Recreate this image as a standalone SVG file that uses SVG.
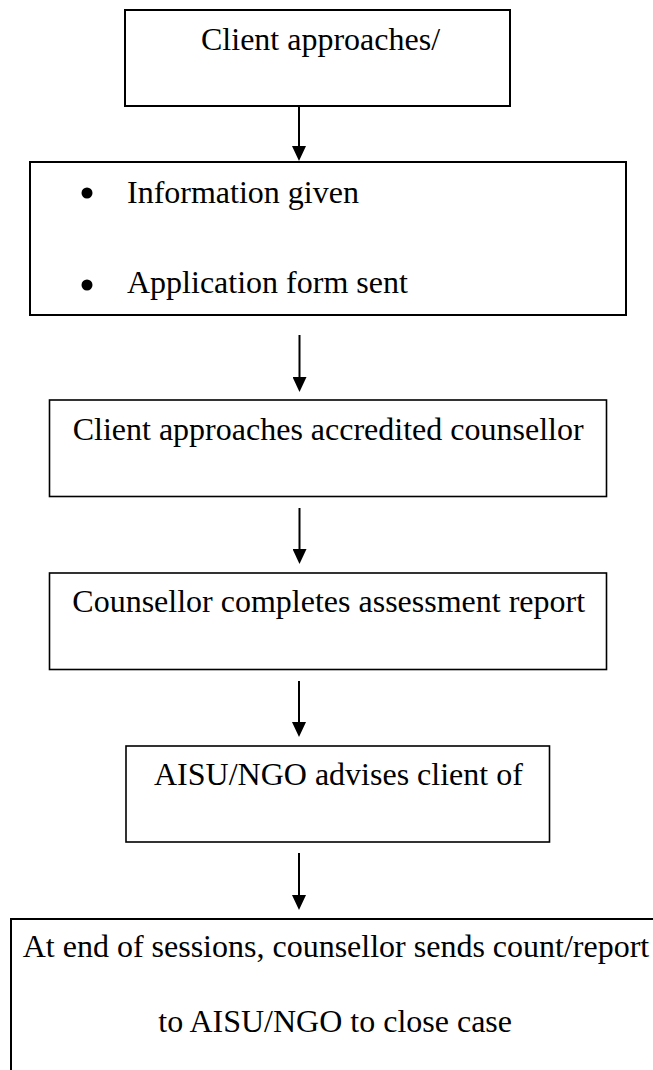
<svg xmlns="http://www.w3.org/2000/svg" width="653" height="1070" viewBox="0 0 653 1070">
  <style>
    .box { fill: #ffffff; stroke: #000000; stroke-width: 2; }
    .thin { stroke-width: 1.6; }
    .t { font-family: "Liberation Serif", "Times New Roman", serif; font-size: 32px; fill: #000000; }
    .conn { stroke: #000000; stroke-width: 2; fill: none; marker-end: url(#arrow); }
  </style>
  <defs>
    <marker id="arrow" markerUnits="userSpaceOnUse" markerWidth="15" markerHeight="14" viewBox="0 0 15 14" refX="0" refY="7" orient="auto">
      <path d="M0,0 L15,7 L0,14 Z" fill="#000000"/>
    </marker>
  </defs>
  <rect width="653" height="1070" fill="#ffffff"/>

  <g id="connectors">
    <line class="conn" x1="299" y1="106" x2="299" y2="146"/>
    <line class="conn" x1="299.5" y1="335" x2="299.5" y2="377"/>
    <line class="conn" x1="299.5" y1="508" x2="299.5" y2="549"/>
    <line class="conn" x1="299" y1="681" x2="299" y2="722"/>
    <line class="conn" x1="299" y1="853" x2="299" y2="895"/>
  </g>

  <g id="node-client-approaches">
    <rect class="box" x="125" y="10" width="385" height="96"/>
    <text class="t" x="201" y="50">Client approaches/</text>
  </g>

  <g id="node-information">
    <rect class="box" x="30" y="162" width="596" height="153"/>
    <circle cx="87" cy="193" r="5.5" fill="#000000"/>
    <text class="t" x="127" y="203">Information given</text>
    <circle cx="87" cy="285" r="5.5" fill="#000000"/>
    <text class="t" x="127" y="293">Application form sent</text>
  </g>

  <g id="node-accredited-counsellor">
    <rect class="box thin" x="49.5" y="400" width="557" height="96.5"/>
    <text class="t" x="72.7" y="440">Client approaches accredited counsellor</text>
  </g>

  <g id="node-assessment-report">
    <rect class="box thin" x="49.5" y="573" width="557" height="96.5"/>
    <text class="t" x="72.3" y="612">Counsellor completes assessment report</text>
  </g>

  <g id="node-advises-client">
    <rect class="box thin" x="126" y="746" width="423.5" height="96"/>
    <text class="t" x="154" y="785">AISU/NGO advises client of</text>
  </g>

  <g id="node-close-case">
    <rect class="box" x="11" y="919" width="650" height="170"/>
    <text class="t" x="22.7" y="957">At end of sessions, counsellor sends count/report</text>
    <text class="t" x="158.3" y="1032">to AISU/NGO to close case</text>
  </g>
</svg>
